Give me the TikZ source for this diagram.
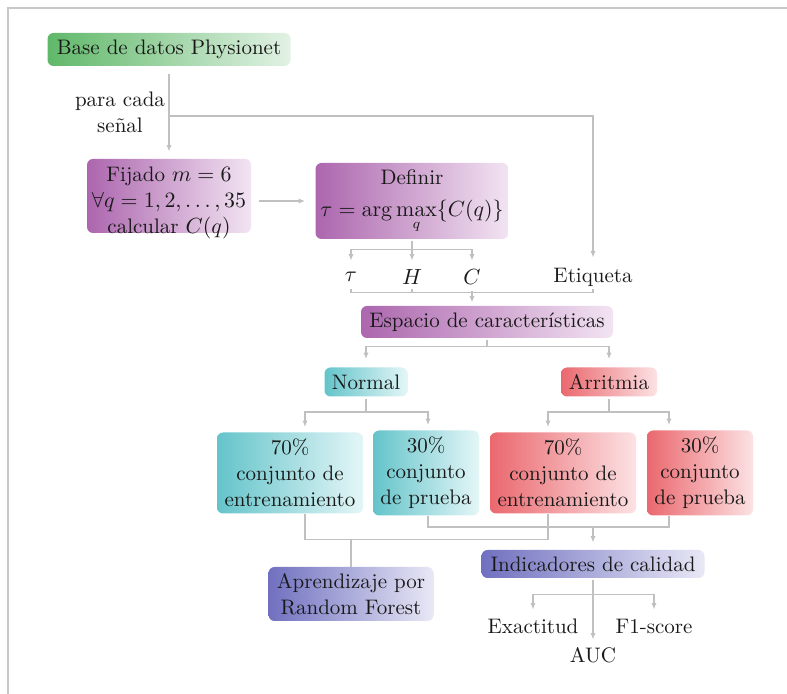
\documentclass[tikz,border=0pt]{standalone}
\usetikzlibrary{arrows.meta,calc}
\definecolor{lncol}{RGB}{192,192,192}
\definecolor{frcol}{RGB}{200,200,200}
\definecolor{grL}{RGB}{96,184,106}
\definecolor{grR}{RGB}{226,242,228}
\definecolor{puL}{RGB}{172,102,174}
\definecolor{puR}{RGB}{242,228,242}
\definecolor{cyL}{RGB}{100,196,202}
\definecolor{cyR}{RGB}{228,246,247}
\definecolor{reL}{RGB}{234,104,110}
\definecolor{reR}{RGB}{252,226,228}
\definecolor{blL}{RGB}{112,112,192}
\definecolor{blR}{RGB}{232,232,246}
\begin{document}
\fontsize{10.5}{13}\selectfont
\begin{tikzpicture}[x=0.5pt,y=-0.5pt,
  every node/.style={font=\fontsize{10.5}{13}\selectfont},
  box/.style={rounded corners=3pt, align=center, inner sep=2pt, text=black!90},
  gbox/.style={box, left color=grL, right color=grR},
  pbox/.style={box, left color=puL, right color=puR},
  cbox/.style={box, left color=cyL, right color=cyR},
  rbox/.style={box, left color=reL, right color=reR},
  bbox/.style={box, left color=blL, right color=blR},
  ln/.style={draw=lncol, line width=0.7pt, shorten <=1pt},
  arr/.style={ln, -{Latex[length=3.2pt,width=2.6pt]}, shorten >=2pt},
  lbl/.style={inner sep=0pt, minimum height=12pt, text=black!90}]
\useasboundingbox (0,0) rectangle (787,694);
\draw[frcol, line width=1pt] (8,694) -- (8,8) -- (787,8);

% nodes
\node[gbox, minimum width=121.5pt, minimum height=16.5pt] (base) at (169,49.5) {Base de datos Physionet};
\node[align=center, text=black!90] (para) at (120,112) {para cada\\señal};
\node[pbox, minimum width=82pt, minimum height=37pt] (fij) at (169,196) {};
\node[align=center, inner sep=0pt, text=black!90] (fijt) at ([yshift=-3.5pt]fij.center) {Fijado $m=6$\\$\forall q=1,2,\ldots,35$\\calcular $C(q)$};
\node[pbox, minimum width=96.5pt, minimum height=38pt] (def) at (412,201) {Definir\\[3pt]$\displaystyle\tau=\arg\max_{q}\{C(q)\}$};
\node[lbl] (tau) at (351,277) {$\tau$};
\node[lbl] (hh) at (412,277) {$H$};
\node[lbl] (cc) at (472,277) {$C$};
\node[lbl] (etiq) at (593,277) {Etiqueta};
\node[pbox, minimum width=126pt, minimum height=16pt] (esp) at (487,322) {Espacio de características};
\node[cbox, minimum width=41.5pt, minimum height=14.5pt] (nor) at (366,382) {Normal};
\node[rbox, minimum width=48pt, minimum height=14.5pt] (arr) at (609,382) {Arritmia};
\node[cbox, minimum width=73pt, minimum height=40.5pt] (n70) at (290,473) {70\%\\conjunto de\\entrenamiento};
\node[cbox, minimum width=53pt, minimum height=42.5pt] (n30) at (426,473) {30\%\\conjunto\\de prueba};
\node[rbox, minimum width=73pt, minimum height=40.5pt] (a70) at (563,473) {70\%\\conjunto de\\entrenamiento};
\node[rbox, minimum width=53pt, minimum height=42.5pt] (a30) at (700,473) {30\%\\conjunto\\de prueba};
\node[bbox, minimum width=82.5pt, minimum height=27pt] (apr) at (351,594) {Aprendizaje por\\Random Forest};
\node[bbox, minimum width=111.5pt, minimum height=14pt] (ind) at (593,564) {Indicadores de calidad};
\node[lbl] (exa) at (533,626) {Exactitud};
\node[lbl] (f1) at (654,626) {F1-score};
\node[lbl] (auc) at (593,655) {AUC};
\coordinate (sp) at (169,116);

% connectors
\draw[arr, shorten <=4pt, shorten >=3.5pt] (base.south) -- (fij.north);
\draw[arr, shorten <=0pt, shorten >=3.5pt] (sp) -| (etiq.north);
\draw[arr, shorten <=4pt, shorten >=5pt] (fij.east |- def.west) -- (def.west);
\draw[arr] (def.south) -- ++(0,10) -| (tau.north);
\draw[arr] (def.south) -- (hh.north);
\draw[arr] (def.south) -- ++(0,10) -| (cc.north);
\draw[ln, shorten <=0pt] (tau.south) -- ++(0,3) -| (etiq.south);
\draw[ln, shorten <=0pt] (hh.south) -- ++(0,3);
\draw[arr, shorten >=1.5pt] (cc.south) -- (cc.south |- esp.north);
\draw[arr, shorten >=4pt] (esp.south) -- ++(0,8) -| (nor.north);
\draw[arr, shorten >=4pt] (esp.south) -- ++(0,8) -| (arr.north);
\draw[arr, shorten >=2.5pt] (nor.south) -- ++(0,15) -| ([xshift=7.5pt]n70.north);
\draw[arr, shorten >=2.5pt] (nor.south) -- ++(0,15) -| ([xshift=1pt]n30.north);
\draw[arr, shorten >=2.5pt] (arr.south) -- ++(0,15) -| ([xshift=-7.5pt]a70.north);
\draw[arr, shorten >=2.5pt] (arr.south) -- ++(0,15) -| ([xshift=-15.5pt]a30.north);
\draw[ln, shorten <=0pt] ([xshift=7.5pt]n70.south) -- ++(0,25.5) -| ([xshift=-7.5pt]a70.south);
\draw[ln, shorten <=0pt] (apr.north) -- ++(0,-28);
\draw[ln, shorten <=0pt] ([xshift=1pt]n30.south) -- ++(0,11) -| ([xshift=-15.5pt]a30.south);
\draw[arr, shorten <=0pt, shorten >=3.5pt] ([yshift=11.5pt]ind.north) -- (ind.north);
\draw[arr] (ind.south) -- ++(0,16) -| (exa.north);
\draw[arr] (ind.south) -- ++(0,16) -| (f1.north);
\draw[arr, shorten >=1.5pt] (ind.south) -- (auc.north);
\end{tikzpicture}
\end{document}
